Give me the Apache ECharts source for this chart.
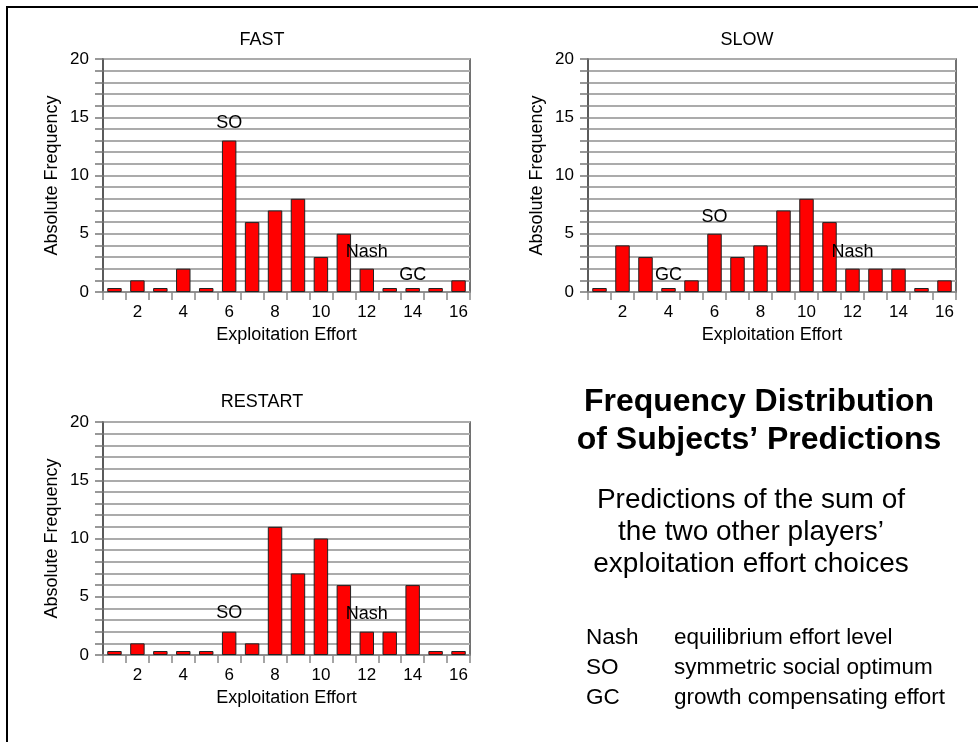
<!DOCTYPE html>
<html>
<head>
<meta charset="utf-8">
<script src="https://cdn.jsdelivr.net/npm/echarts@6/dist/echarts.min.js"></script>
<style>
html,body{margin:0;padding:0;background:#fff;}
#main{width:978px;height:742px;}
</style>
</head>
<body>
<div id="main"></div>
<script>
// ---- data ----
const categories = ['1','2','3','4','5','6','7','8','9','10','11','12','13','14','15','16'];
const fastValues    = [0,1,0,2,0,13,6,7,8,3,5,2,0,0,0,1];
const slowValues    = [0,4,3,0,1,5,3,4,7,8,6,2,2,2,0,1];
const restartValues = [0,1,0,0,0,2,1,11,7,10,6,2,2,6,0,0];
const panelTitles = ['FAST','SLOW','RESTART'];
const fastNotes    = [['6',14.5,'SO'],['12',3.4,'Nash'],['14',1.45,'GC']];
const slowNotes    = [['6',6.45,'SO'],['12',3.4,'Nash'],['4',1.45,'GC']];
const restartNotes = [['6',3.6,'SO'],['12',3.5,'Nash']];
const yTicks = [0,5,10,15,20];
const headline = ['Frequency Distribution','of Subjects\u2019 Predictions'];
const subline = ['Predictions of the sum of','the two other players\u2019','exploitation effort choices'];
const legendAbbr = ['Nash','SO','GC'];
const legendDesc = ['equilibrium effort level','symmetric social optimum','growth compensating effort'];

const FONT = '"Liberation Sans", Arial, sans-serif';
const grids = [
  {left:103, width:367, top:59, height:233},
  {left:588, width:368, top:59, height:233},
  {left:103, width:367, top:422, height:233}
].map(g=>Object.assign(g,{show:true, borderColor:'#444', borderWidth:1.5, backgroundColor:'transparent'}));
const valuesList = [fastValues, slowValues, restartValues];
const notesList = [fastNotes, slowNotes, restartNotes];
const titleCenters = [[257,35],[742,35],[257,397]];

const gridLine = {show:true, lineStyle:{color:'#ababab', width:2}};
const xAxes = [], yAxes = [], series = [], titles = [];
grids.forEach((g,i)=>{
  xAxes.push({
    type:'category', gridIndex:i, data:categories,
    name:'Exploitation Effort', nameLocation:'middle', nameGap:34,
    nameTextStyle:{fontFamily:FONT, fontSize:18, color:'#000'},
    axisLine:{lineStyle:{color:'#888', width:1.5}},
    axisTick:{show:true, interval:0, length:8, lineStyle:{color:'#888', width:1.5}},
    axisLabel:{interval:(idx)=>idx%2===1, margin:12, fontFamily:FONT, fontSize:17, color:'#000'},
    splitLine:{show:false}
  });
  yAxes.push({
    type:'value', gridIndex:i, min:yTicks[0], max:yTicks[yTicks.length-1], interval:yTicks[1]-yTicks[0],
    name:'Absolute Frequency', nameLocation:'middle', nameGap:42,
    nameTextStyle:{fontFamily:FONT, fontSize:18, color:'#000'},
    axisLine:{show:true, lineStyle:{color:'#555', width:1.5}},
    axisTick:{show:true, length:8, lineStyle:{color:'#777', width:1.5}},
    minorTick:{show:true, splitNumber:5, length:8, lineStyle:{color:'#777', width:1.5}},
    axisLabel:{margin:14, fontFamily:FONT, fontSize:17, color:'#000'},
    splitLine:gridLine,
    minorSplitLine:gridLine
  });
  series.push({
    type:'bar', xAxisIndex:i, yAxisIndex:i, data:valuesList[i],
    barWidth:'63%', barMinHeight:4,
    itemStyle:{color:'#ff0000', borderColor:'#222', borderWidth:1},
    z:3
  });
  series.push({
    type:'scatter', xAxisIndex:i, yAxisIndex:i,
    data:notesList[i].map(n=>({name:n[2], value:[n[0], n[1]]})),
    symbolSize:1, itemStyle:{color:'transparent', opacity:1},
    label:{show:true, position:'inside', formatter:(p)=>p.name, fontFamily:FONT, fontSize:18, color:'#000', opacity:1, textBorderWidth:0},
    silent:true, z:5
  });
  titles.push({
    text:panelTitles[i], left:titleCenters[i][0], top:titleCenters[i][1], textAlign:'center', textVerticalAlign:'middle',
    textStyle:{fontFamily:FONT, fontSize:18, fontWeight:'normal', color:'#000'}
  });
});

const graphics = [
  {type:'rect', shape:{x:7, y:7, width:1000, height:800}, style:{fill:null, stroke:'#000', lineWidth:2}, silent:true}
];
const headY = [402, 440];
headline.forEach((t,k)=>graphics.push({type:'text', x:759, y:headY[k], style:{text:t, textAlign:'center', textVerticalAlign:'middle', font:'bold 32px '+FONT, fill:'#000'}}));
const subY = [500, 532, 564];
subline.forEach((t,k)=>graphics.push({type:'text', x:751, y:subY[k], style:{text:t, textAlign:'center', textVerticalAlign:'middle', font:'28px '+FONT, fill:'#000'}}));
const legY = [638, 668, 698];
legendAbbr.forEach((t,k)=>{
  graphics.push({type:'text', x:586, y:legY[k], style:{text:t, textAlign:'left', textVerticalAlign:'middle', font:'22.5px '+FONT, fill:'#000'}});
  graphics.push({type:'text', x:674, y:legY[k], style:{text:legendDesc[k], textAlign:'left', textVerticalAlign:'middle', font:'22.5px '+FONT, fill:'#000'}});
});

const chart = echarts.init(document.getElementById('main'), null, {renderer:'canvas'});
chart.setOption({
  backgroundColor:'#fff',
  animation:false,
  title:titles,
  grid:grids,
  xAxis:xAxes,
  yAxis:yAxes,
  series:series,
  graphic:graphics
});
</script>
</body>
</html>
